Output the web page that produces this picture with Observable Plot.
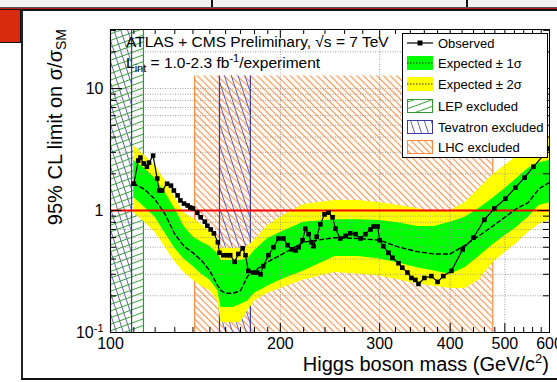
<!DOCTYPE html>
<html>
<head>
<meta charset="utf-8">
<script src="https://cdn.jsdelivr.net/npm/d3@7"></script>
<script src="https://cdn.jsdelivr.net/npm/@observablehq/plot@0.6"></script>
<style>
html, body { margin: 0; padding: 0; background: #fff; }
body { width: 557px; height: 382px; position: relative; overflow: hidden;
       font-family: "Liberation Sans", Arial, Helvetica, sans-serif; }
.abs { position: absolute; }
#chart { position: absolute; left: 22px; top: 10px; }
#legend { position: absolute; left: 402px; top: 33px; width: 144px; height: 123px;
          background: #fff; border: 1px solid #000; }
#legend .row { position: absolute; left: 4px; height: 14px; display: flex; align-items: center;
               font-size: 13px; white-space: nowrap; }
#legend .row svg { margin-right: 5px; display: block; }
</style>
</head>
<body>
<!-- slide decorations -->
<div class="abs" style="left:0;top:0;width:557px;height:7px;background:#f2f2f2"></div>
<div class="abs" style="left:211px;top:0;width:2px;height:8px;background:#111"></div>
<div class="abs" style="left:466px;top:0;width:2px;height:8px;background:#111"></div>
<div class="abs" style="left:0;top:7px;width:557px;height:1px;background:#555"></div>
<div class="abs" style="left:0;top:8px;width:557px;height:1px;background:#c0201a"></div>
<div class="abs" style="left:0;top:9px;width:557px;height:1.5px;background:#111"></div>
<div class="abs" style="left:0;top:10px;width:20px;height:32px;background:#d82a0e;border-right:2px solid #111;border-bottom:1px solid #111"></div>
<div class="abs" style="left:21px;top:10px;width:1.5px;height:370px;background:#222"></div>
<div class="abs" style="left:21px;top:378px;width:536px;height:2px;background:#111"></div>

<div id="chart"></div>

<div id="legend">
  <div class="row" style="top:2px"><svg width="26" height="14"><line x1="0" y1="7" x2="26" y2="7" stroke="#000" stroke-width="1.2"/><rect x="10.5" y="4.5" width="5" height="5" fill="#000"/></svg><span>Observed</span></div>
  <div class="row" style="top:22px"><svg width="26" height="14"><rect x="0" y="0" width="26" height="14" fill="#00ff00"/><line x1="0" y1="7" x2="26" y2="7" stroke="#000" stroke-width="0.8" stroke-dasharray="1.5,1.5"/></svg><span>Expected ± 1σ</span></div>
  <div class="row" style="top:43px"><svg width="26" height="14"><rect x="0" y="0" width="26" height="14" fill="#ffff00"/><line x1="0" y1="7" x2="26" y2="7" stroke="#000" stroke-width="0.8" stroke-dasharray="1.5,1.5"/></svg><span>Expected ± 2σ</span></div>
  <div class="row" style="top:65px"><svg width="26" height="14"><rect x="0.5" y="0.5" width="25" height="13" fill="url(#hLEP)" stroke="#2e9a2e" stroke-width="1"/></svg><span>LEP excluded</span></div>
  <div class="row" style="top:86px"><svg width="26" height="14"><rect x="0.5" y="0.5" width="25" height="13" fill="url(#hTEV)" stroke="#3a3aa0" stroke-width="1"/></svg><span>Tevatron excluded</span></div>
  <div class="row" style="top:106px"><svg width="26" height="14"><rect x="0.5" y="0.5" width="25" height="13" fill="url(#hLHC)" stroke="#ff8a3d" stroke-width="1"/></svg><span>LHC excluded</span></div>
</div>

<script>
// ---------------- data ----------------
const bandMass = [110,115,120,125,130,135,140,145,150,155,157,160,165,170,175,180,190,200,220,250,275,300,325,350,375,400,425,450,475,500,525,550,575,600];
const expected = [1.66,1.49,1.23,0.93,0.64,0.51,0.45,0.39,0.32,0.24,0.22,0.21,0.21,0.22,0.29,0.32,0.38,0.43,0.55,0.60,0.59,0.57,0.50,0.46,0.44,0.44,0.52,0.62,0.74,0.88,1.04,1.16,1.51,1.70];
const plus1sigma = [2.57,2.21,1.83,1.40,1.04,0.74,0.61,0.55,0.51,0.44,0.39,0.39,0.39,0.39,0.40,0.47,0.59,0.66,0.80,0.84,0.84,0.83,0.79,0.74,0.74,0.80,0.88,1.04,1.25,1.51,1.83,2.21,2.47,2.57];
const minus1sigma = [1.28,1.06,0.88,0.65,0.49,0.40,0.35,0.30,0.27,0.22,0.16,0.16,0.16,0.17,0.18,0.21,0.24,0.27,0.32,0.42,0.42,0.40,0.37,0.34,0.32,0.30,0.34,0.42,0.52,0.62,0.73,0.88,1.10,1.16];
const plus2sigma = [3.41,2.82,2.34,1.76,1.30,0.96,0.86,0.77,0.67,0.57,0.49,0.49,0.49,0.49,0.51,0.57,0.75,0.88,1.12,1.21,1.21,1.16,1.10,1.04,0.98,1.00,1.16,1.51,1.94,2.34,2.77,3.22,3.74,4.11];
const minus2sigma = [0.95,0.80,0.66,0.50,0.38,0.31,0.27,0.24,0.22,0.18,0.12,0.12,0.12,0.12,0.15,0.18,0.21,0.23,0.27,0.31,0.30,0.29,0.27,0.25,0.24,0.23,0.23,0.27,0.37,0.45,0.54,0.66,0.77,0.83];

const obsMass = [110,112,113,114.5,116,117,119,121,122,123.5,126,128,129.5,131.5,133,135,137,138.5,140,142.5,144.5,147,148.5,150.5,152.5,155,156,158.5,161,163,166,168.5,171.5,173.5,175.5,179,182,184.5,186.5,190.5,194.5,198.5,202.5,206,209.5,213,215.5,219,221.5,224.5,227,229,232,235.5,239.5,243.5,247.5,250.5,255.5,261,266,272,277.5,283,289,292.5,297.5,300,304.5,311,316,324,329,336,341.5,347,351.5,360,370.5,380,389,402,421,440,460,479,501,522,542,562,600];
const obsLimit = [1.66,2.57,2.72,2.43,2.29,2.47,2.82,1.83,1.46,1.46,1.66,1.60,1.46,1.33,1.21,1.14,1.10,1.06,1.04,0.96,0.88,0.81,0.75,0.70,0.65,0.55,0.45,0.43,0.43,0.43,0.38,0.44,0.49,0.43,0.32,0.31,0.31,0.30,0.35,0.43,0.50,0.59,0.59,0.52,0.48,0.47,0.50,0.57,0.71,0.64,0.55,0.51,0.61,0.77,0.93,0.96,0.88,0.71,0.59,0.62,0.65,0.64,0.59,0.64,0.70,0.74,0.74,0.57,0.51,0.45,0.41,0.37,0.34,0.31,0.28,0.27,0.25,0.28,0.29,0.26,0.29,0.32,0.48,0.60,0.84,1.04,1.25,1.54,1.86,2.29,3.22];

const exclName = ["LHC", "Tevatron", "Tevatron", "LEP"];
const exclLow  = [141, 156, 100, 100];
const exclHigh = [476, 177, 109, 114.4];
const exclTop  = [12.7, 12.7, 30.5, 30.5];

const xMajorTicks = [100, 200, 300, 400, 500, 600];
const xMinorTicks = [110,120,130,140,150,160,170,180,190,220,240,260,280,320,340,360,380,420,440,460,480,520,540,560,580];
const yMajorTicks = [0.1, 1, 10];
const yTickLabels = ["10⁻¹", "1", "10"];
const yMinorTicks = [0.2,0.3,0.4,0.5,0.6,0.7,0.8,0.9,2,3,4,5,6,7,8,9,20,30];
const yGrid = [0.2,0.3,0.4,0.5,0.6,0.7,0.8,0.9,2,3,4,5,6,7,8,9,10,20];
const xGrid = [200, 300, 400, 500];

// ---------------- build ----------------
const W = 535, H = 370, mL = 88, mR = 8, mT = 19, mB = 48;
const pw = W - mL - mR, ph = H - mT - mB;
const yTop = 30.5;

const bands = bandMass.map((m, i) => ({m, exp: expected[i], p1: plus1sigma[i], m1: minus1sigma[i], p2: plus2sigma[i], m2: minus2sigma[i]}));
const obs = obsMass.map((m, i) => ({m, v: obsLimit[i]}));
const regions = exclName.map((n, i) => ({name: n, lo: exclLow[i], hi: exclHigh[i], top: exclTop[i]}));
const reg = n => regions.filter(d => d.name === n);
const edgeColor = {LEP: "#2e9a2e", Tevatron: "#3a3aa0", LHC: "#ff8a3d"};

const svg = Plot.plot({
  width: W, height: H,
  marginLeft: mL, marginRight: mR, marginTop: mT, marginBottom: mB,
  style: {fontFamily: '"Liberation Sans", Arial, Helvetica, sans-serif', background: "transparent", overflow: "visible", color: "black"},
  x: {type: "log", domain: [100, 600], axis: null},
  y: {type: "log", domain: [0.1, yTop], axis: null},
  marks: [
    Plot.rect(reg("LHC"), {x1: "lo", x2: "hi", y1: 0.1, y2: "top", fill: "url(#hLHC)"}),
    Plot.rect(reg("Tevatron"), {x1: "lo", x2: "hi", y1: 0.1, y2: "top", fill: "url(#hTEV)"}),
    Plot.rect(reg("LEP"), {x1: "lo", x2: "hi", y1: 0.1, y2: "top", fill: "url(#hLEP)"}),
    Plot.ruleX(reg("LHC"), {x: "lo", y1: 0.1, y2: "top", stroke: edgeColor.LHC, strokeWidth: 1.2}),
    Plot.ruleX(reg("LHC"), {x: "hi", y1: 0.1, y2: "top", stroke: edgeColor.LHC, strokeWidth: 1.2}),
    Plot.ruleX(reg("Tevatron"), {x: "lo", y1: 0.1, y2: "top", stroke: edgeColor.Tevatron, strokeWidth: 1.2}),
    Plot.ruleX(reg("Tevatron"), {x: "hi", y1: 0.1, y2: "top", stroke: edgeColor.Tevatron, strokeWidth: 1.2}),
    Plot.ruleX(reg("LEP"), {x: "hi", y1: 0.1, y2: "top", stroke: edgeColor.LEP, strokeWidth: 1.2}),
    Plot.areaY(bands, {x: "m", y1: "m2", y2: "p2", fill: "#ffff00", clip: true}),
    Plot.areaY(bands, {x: "m", y1: "m1", y2: "p1", fill: "#00ff00", clip: true}),
    Plot.ruleY(yGrid, {y: d => d, stroke: "#8a8a8a", strokeWidth: 0.8, strokeDasharray: "1,1.5"}),
    Plot.ruleX(xGrid, {x: d => d, stroke: "#8a8a8a", strokeWidth: 0.8, strokeDasharray: "1,1.5"}),
    Plot.ruleY([1], {y: d => d, stroke: "#ff0000", strokeWidth: 2}),
    Plot.line(bands, {x: "m", y: "exp", stroke: "#000", strokeWidth: 1.4, strokeDasharray: "4,3", clip: true}),
    Plot.line(obs, {x: "m", y: "v", stroke: "#000", strokeWidth: 1.2, clip: true}),
    Plot.dot(obs, {x: "m", y: "v", symbol: "square", r: 2.6, fill: "#000", stroke: "none", clip: true}),
    // inward ticks on all four sides
    Plot.ruleX(xMajorTicks, {x: d => d, insetTop: ph - 9, stroke: "#000"}),
    Plot.ruleX(xMinorTicks, {x: d => d, insetTop: ph - 5, stroke: "#000"}),
    Plot.ruleX(xMajorTicks, {x: d => d, insetBottom: ph - 9, stroke: "#000"}),
    Plot.ruleX(xMinorTicks, {x: d => d, insetBottom: ph - 5, stroke: "#000"}),
    Plot.ruleY(yMajorTicks, {y: d => d, insetRight: pw - 12, stroke: "#000"}),
    Plot.ruleY(yMinorTicks, {y: d => d, insetRight: pw - 6, stroke: "#000"}),
    Plot.ruleY(yMajorTicks, {y: d => d, insetLeft: pw - 12, stroke: "#000"}),
    Plot.ruleY(yMinorTicks, {y: d => d, insetLeft: pw - 6, stroke: "#000"}),
    Plot.frame({stroke: "#000", strokeWidth: 1}),
    // tick labels
    Plot.text(xMajorTicks, {x: d => d, text: d => String(d), frameAnchor: "bottom", lineAnchor: "top", dy: 5, fontSize: 16}),
    Plot.text(yMajorTicks, {y: d => d, text: (d, i) => yTickLabels[i], frameAnchor: "left", textAnchor: "end", dx: -7, fontSize: 16})
  ]
});
document.getElementById("chart").appendChild(svg);

// hatch patterns
const root = d3.select(svg);
const defs = root.insert("defs", ":first-child");
function hatch(id, color, spacing, angle, width) {
  const p = defs.append("pattern").attr("id", id).attr("patternUnits", "userSpaceOnUse")
    .attr("width", spacing).attr("height", 10).attr("patternTransform", `rotate(${angle})`);
  p.append("line").attr("x1", spacing / 2).attr("y1", 0).attr("x2", spacing / 2).attr("y2", 10)
    .attr("stroke", color).attr("stroke-width", width);
}
hatch("hLHC", "#ff9550", 4.7, -45, 1.2);
hatch("hTEV", "#5555b0", 6.5, -18, 0.9);
hatch("hLEP", "#3aa03a", 6.2, 70, 1);

// superscript for 10^-1 label
root.selectAll("text").each(function () {
  if (this.textContent === "10⁻¹") {
    const t = d3.select(this);
    t.text("");
    t.append("tspan").text("10");
    t.append("tspan").attr("font-size", 11).attr("dy", "-0.55em").text("-1");
  }
});

// axis titles and annotations
const ff = '"Liberation Sans", Arial, Helvetica, sans-serif';
const yl = root.append("text").attr("transform", `translate(40,${mT}) rotate(-90)`)
  .attr("text-anchor", "end").attr("font-size", 20).attr("font-family", ff).attr("fill", "#000");
yl.append("tspan").text("95% CL limit on σ/σ");
yl.append("tspan").attr("font-size", 14).attr("dy", 4).text("SM");

const xl = root.append("text").attr("x", W - mR).attr("y", 361)
  .attr("text-anchor", "end").attr("font-size", 20).attr("font-family", ff).attr("fill", "#000");
xl.append("tspan").text("Higgs boson mass (GeV/c");
xl.append("tspan").attr("font-size", 13).attr("dy", -8).text("2");
xl.append("tspan").attr("dy", 8).text(")");

root.append("text").attr("x", 104).attr("y", 37).attr("text-anchor", "start")
  .attr("font-size", 15.5).attr("font-family", ff).attr("fill", "#000")
  .text("ATLAS + CMS Preliminary, √s = 7 TeV");

const a2 = root.append("text").attr("x", 104).attr("y", 58).attr("text-anchor", "start")
  .attr("font-size", 15.5).attr("font-family", ff).attr("fill", "#000");
a2.append("tspan").text("L");
a2.append("tspan").attr("font-size", 11).attr("dy", 4).text("int");
a2.append("tspan").attr("dy", -4).text(" = 1.0-2.3 fb");
a2.append("tspan").attr("font-size", 11).attr("dy", -6).text("-1");
a2.append("tspan").attr("dy", 6).text("/experiment");
</script>
</body>
</html>
